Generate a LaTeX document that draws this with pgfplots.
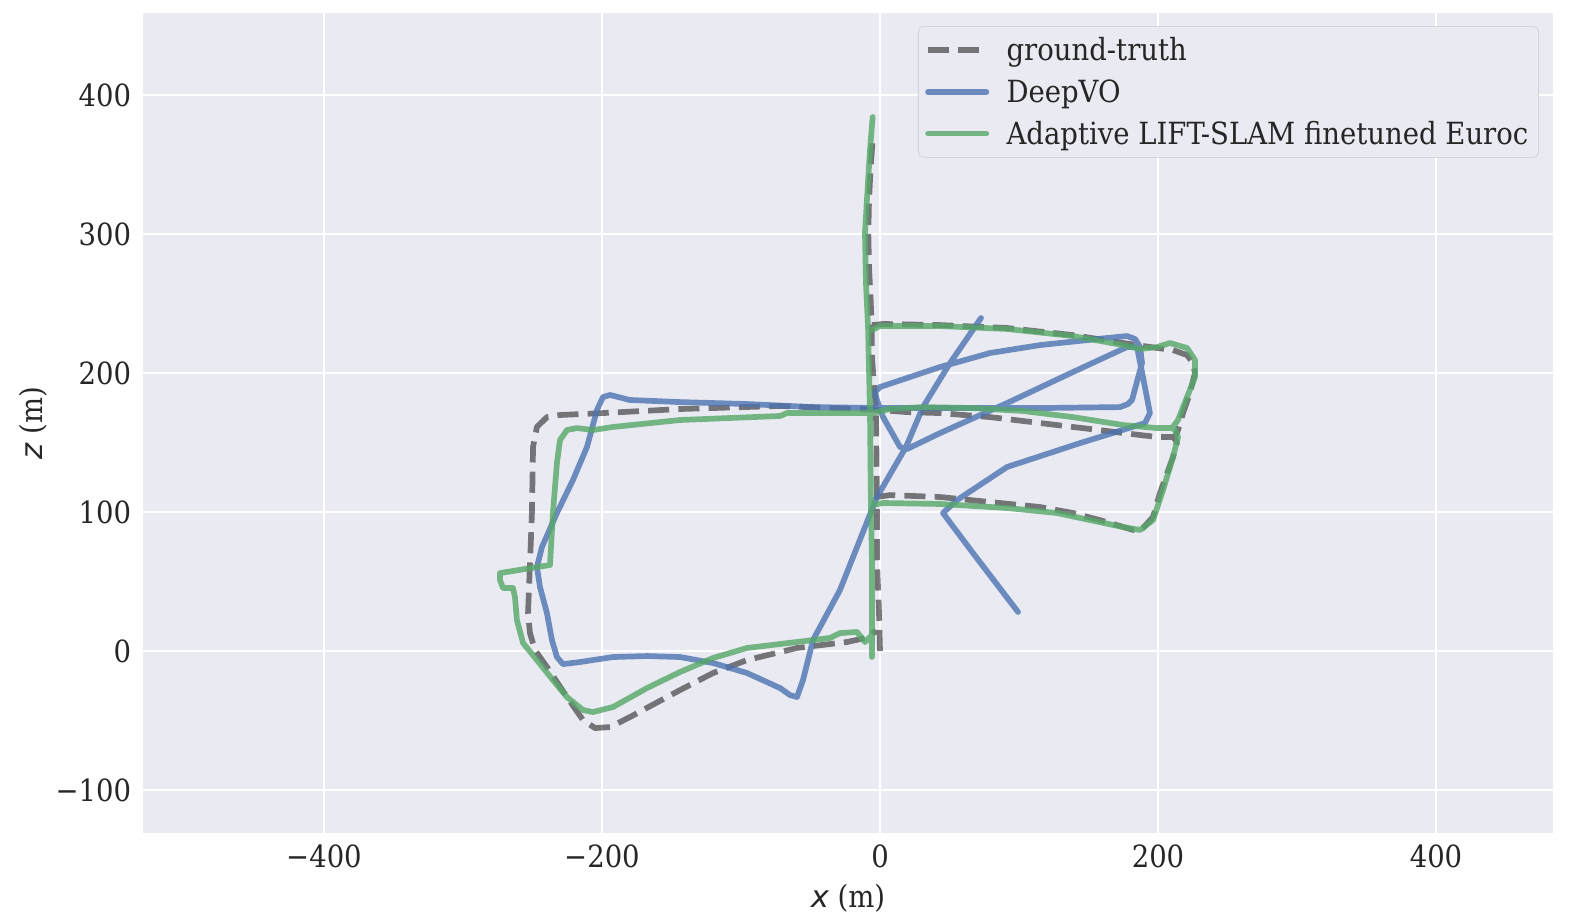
\documentclass[border=0pt]{standalone}
\usepackage{fontspec}
\setmainfont{DejaVu Serif Condensed}
\newfontfamily\labelsans{DejaVu Sans}
\usepackage{pgfplots}
\pgfplotsset{compat=1.18}
\definecolor{bgc}{HTML}{EAEAF2}
\definecolor{txt}{HTML}{262626}
\definecolor{deepblue}{HTML}{4C72B0}
\definecolor{deepgreen}{HTML}{55A868}
\definecolor{legedge}{HTML}{CCCCCC}
\newcommand\chartfont{\fontsize{22}{26}\selectfont}

\begin{document}
\begin{tikzpicture}
\useasboundingbox (-102.96pt,-59.76pt) rectangle (1026.72pt,599.76pt);
\begin{axis}[
  at={(0pt,0pt)}, anchor=south west,
  scale only axis, width=1015.2pt, height=590.4pt,
  xmin=-530.2, xmax=484.2, ymin=-130.9, ymax=459,
  axis background/.style={fill=bgc},
  axis line style={draw=none},
  major tick length=0pt,
  grid=major, major grid style={white, line width=1.2pt},
  xtick={-400,-200,0,200,400}, xticklabels={−400,−200,0,200,400},
  ytick={-100,0,100,200,300,400}, yticklabels={−100,0,100,200,300,400},
  tick label style={font=\chartfont, text=txt},
  xticklabel style={yshift=-5pt}, yticklabel style={xshift=-5.1pt},
  xlabel={{\labelsans\itshape x} (m)}, ylabel={{\labelsans\itshape z} (m)},
  label style={font=\chartfont, text=txt},
  xlabel style={at={(axis description cs:0.5,0)}, anchor=center, yshift=-46.8pt},
  ylabel style={at={(axis description cs:0,0.5)}, anchor=center, yshift=79.2pt},
  unbounded coords=jump,
  legend style={at={(0.990,0.984)}, anchor=north east, fill=bgc, draw=legedge,
    rounded corners=4pt, font=\chartfont, text=txt, inner xsep=5pt, inner ysep=5.5pt,
    nodes={inner sep=2.5pt}, column sep=10pt, row sep=7pt},
  legend cell align=left,
  legend image code/.code={\draw[#1] (0pt,0pt) -- (42pt,0pt);},
]
% ground truth
\addplot[black, draw opacity=0.5, line width=4.1pt, dash pattern=on 15.2pt off 6.6pt, line join=round] coordinates {
(0,0) (-0.7,27.3) (-2.2,65.5) (-2.2,110.8) (7.2,112.2) (43.2,110.8) (79.1,107.2)
(115.1,103.6) (138.8,99.3) (163.3,92.8) (182.0,87.1) (189.2,88.5) (196.4,96.4)
(201.4,113.7) (210.8,139.6) (213.7,150.4) (210.8,154.0) (199.3,154.0) (187.1,155.4)
(163.3,158.3) (138.8,161.2) (102.9,165.5) (79.1,168.3) (43.2,171.2) (19.4,171.9)
(0,173.4) (-71.9,176.3) (-143.9,174.1) (-199.3,171.2) (-230.2,169.8) (-239.6,168.3)
(-246.8,161.2) (-249.6,146.8) (-250.4,99.3) (-251.8,63.3) (-253.2,27.3) (-251.8,12.9)
(-248.2,0.7) (-239.6,-11.5) (-225.2,-33.1) (-213.7,-49.6) (-205.0,-55.4) (-194.2,-54.7)
(-179.9,-47.5) (-143.9,-28.1) (-120.1,-15.8) (-95.7,-6.5) (-59.7,2.2) (-23.7,6.5)
(-7.2,10.1) (-2.9,15.1)
(nan,nan)
(-2.2,110.8) (-2.9,173.4) (-5.8,211.5) (-6.0,233.1) (-6.7,252.5) (-7.9,276.3)
(-8.4,300.7) (-7.9,324.5) (-6.7,348.2) (-5.3,367.6) (-5.0,369.8)
(nan,nan)
(-5.8,234.5) (2.2,235.3) (43.2,234.5) (91.4,232.4) (138.8,227.3) (174.8,221.6)
(199.3,218.0) (210.8,216.5) (220.9,212.9) (225.2,207.2) (226.6,200.0) (223.0,185.6)
(218.0,171.2) (214.4,159.0) (212.2,154.0)
};
\addlegendentry{ground-truth}
% DeepVO
\addplot[deepblue, draw opacity=0.8, line width=4.1pt, line cap=round, line join=round] coordinates {
(72.7,239.6) (50.4,207.2) (30.9,175.5) (18.7,146.8) (-2.2,110.8) (-28.8,43.9)
(-48.2,7.9) (-55.4,-20.9) (-59.7,-33.1) (-64.7,-31.7) (-71.9,-26.6) (-95.7,-15.8)
(-120.1,-8.6) (-143.9,-4.3) (-167.6,-3.6) (-192.1,-4.3) (-215.8,-7.9) (-228.1,-9.4)
(-232.4,-4.3) (-236.0,7.9) (-239.6,27.3) (-244.6,46.0) (-246.8,60.4) (-243.2,74.8)
(-232.4,99.3) (-220.9,123.0) (-210.8,146.8) (-203.6,173.4) (-199.3,182.7) (-194.2,184.2)
(-179.9,180.6) (-143.9,179.1) (-95.7,177.7) (-48.2,175.5) (0,174.8) (43.2,174.8)
(115.1,174.8) (172.7,175.5) (178.4,177.7) (181.3,180.6) (188.5,207.2) (187.1,218.7)
(183.5,224.5) (177.7,226.6) (163.3,225.2) (115.1,220.1) (79.1,214.4) (43.2,204.3)
(0,189.9) (-3.6,186.3) (-2.2,180.6) (2.2,168.3) (14.4,146.8) (19.4,145.3)
(43.2,156.8) (91.4,178.4) (138.8,200.7) (177.7,218.7) (184.9,218.7) (190.6,189.9)
(194.2,171.2) (190.6,164.0) (143.9,149.6) (91.4,132.4) (55.4,108.6) (45.3,99.3)
(66.9,70.5) (99.3,28.1)
};
\addlegendentry{DeepVO}
% Adaptive LIFT-SLAM
\addplot[deepgreen, draw opacity=0.8, line width=4.1pt, line cap=round, line join=round] coordinates {
(-5.3,384.2) (-7.2,360.4) (-9.4,324.5) (-10.8,300.7) (-10.1,264.7) (-8.6,233.1)
(-7.2,171.2) (-6.5,105.0) (-5.8,65.5) (-5.8,10.1) (-5.8,-4.3)
(nan,nan)
(-5.8,105.0) (2.2,106.5) (43.2,105.8) (91.4,102.9) (127.3,99.3) (151.1,94.2)
(174.8,89.2) (187.1,87.1) (196.4,94.2) (203.6,115.8) (210.8,139.6) (214.4,154.0)
(212.2,159.0) (210.1,160.4) (199.3,160.4) (174.8,162.6) (138.8,168.3) (102.9,172.7)
(66.9,174.8) (30.9,175.5) (7.2,174.1) (-5.8,171.2) (-66.9,171.2) (-71.9,169.1)
(-143.9,166.2) (-192.1,161.2) (-206.5,159.0) (-218.0,160.4) (-225.2,159.0) (-230.2,151.8)
(-232.4,135.3) (-235.3,99.3) (-237.4,61.9) (-273.4,56.1) (-273.4,51.1) (-271.2,45.3)
(-264.0,45.3) (-262.6,38.8) (-261.2,22.3) (-256.8,5.8) (-246.8,-6.5) (-235.3,-20.9)
(-225.2,-33.1) (-213.7,-42.4) (-206.5,-43.9) (-192.1,-40.3) (-167.6,-26.6) (-143.9,-15.1)
(-120.1,-5.0) (-95.7,2.2) (-59.7,6.5) (-36.0,9.4) (-28.8,12.9) (-16.5,13.7)
(-10.8,6.5) (-5.8,11.5)
(nan,nan)
(-5.8,230.9) (0,233.8) (43.2,233.8) (91.4,231.7) (138.8,226.6) (174.8,220.1)
(187.1,217.3) (199.3,218.7) (208.6,221.6) (220.9,218.0) (226.6,209.4) (226.6,197.1)
(220.9,182.7) (214.4,166.2) (210.1,160.4)
};
\addlegendentry{Adaptive LIFT-SLAM finetuned Euroc}
\end{axis}
\end{tikzpicture}
\end{document}
